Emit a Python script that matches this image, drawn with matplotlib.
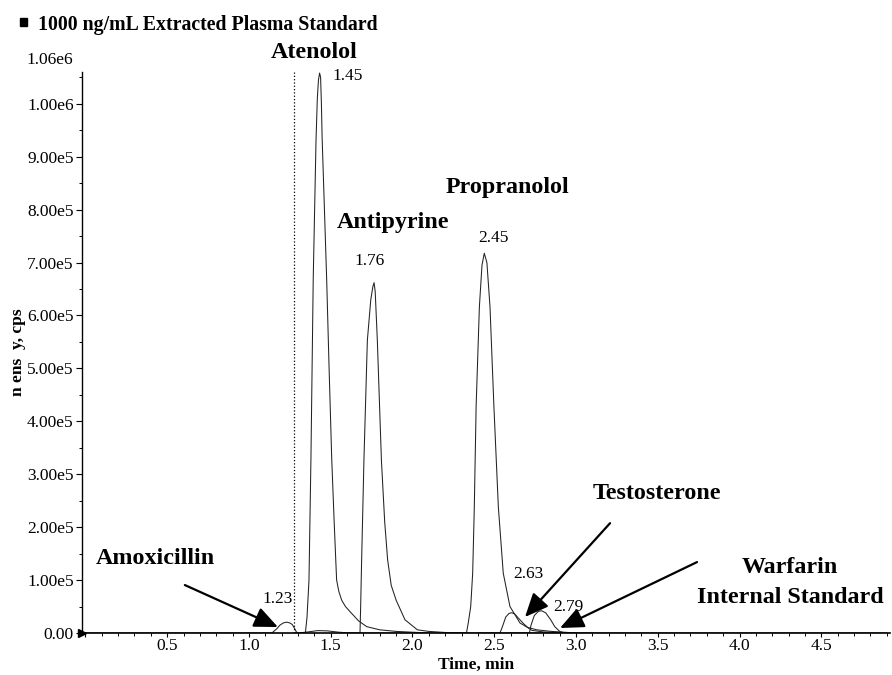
import matplotlib
matplotlib.use('Agg')
import matplotlib.pyplot as plt
from matplotlib.patches import Rectangle
from matplotlib.ticker import MultipleLocator, FuncFormatter

# chromatogram traces (time in min, intensity in cps)
amox_t = [0.0, 1.14, 1.17, 1.19, 1.21, 1.23, 1.25, 1.265, 1.28, 1.29, 1.30, 1.36, 1.42, 1.48, 1.55, 1.62, 4.9]
amox_y = [0, 0, 8e3, 15e3, 19e3, 20.5e3, 19e3, 16e3, 8e3, 2e3, 0, 2e3, 4.5e3, 4e3, 1.5e3, 0, 0]

aten_t = [1.28, 1.345, 1.355, 1.367, 1.379, 1.393, 1.41, 1.418, 1.425, 1.432, 1.438, 1.443, 1.447,
          1.475, 1.49, 1.506, 1.521, 1.536, 1.55, 1.567, 1.59, 1.628, 1.67, 1.72, 1.8, 1.9, 2.0, 2.1]
aten_y = [0, 0, 3e4, 1.0e5, 3.3e5, 6.7e5, 9.3e5, 1.01e6, 1.045e6, 1.058e6, 1.05e6, 1.0e6, 9.4e5,
          6.7e5, 5.0e5, 3.3e5, 2.1e5, 1.0e5, 7.8e4, 6.2e4, 5.0e4, 3.7e4, 2.3e4, 1.2e4, 6e3, 3e3, 1.5e3, 0]

anti_t = [1.60, 1.679, 1.683, 1.689, 1.703, 1.724, 1.745, 1.758, 1.765, 1.772, 1.785, 1.81, 1.83,
          1.848, 1.87, 1.90, 1.954, 2.03, 2.1, 2.2, 2.35]
anti_y = [0, 0, 5e4, 1.38e5, 3.26e5, 5.53e5, 6.3e5, 6.55e5, 6.62e5, 6.45e5, 5.53e5, 3.26e5, 2.1e5,
          1.38e5, 9e4, 6.2e4, 2.5e4, 6e3, 3e3, 1e3, 0]

prop_t = [2.2, 2.33, 2.341, 2.356, 2.368, 2.378, 2.389, 2.409, 2.425, 2.439, 2.455, 2.474, 2.498,
          2.525, 2.555, 2.596, 2.657, 2.70, 2.76, 2.85, 3.0]
prop_y = [0, 0, 1.9e4, 5.0e4, 1.13e5, 2.38e5, 4.27e5, 6.16e5, 6.95e5, 7.175e5, 7.0e5, 6.16e5, 4.27e5,
          2.38e5, 1.13e5, 5.0e4, 1.9e4, 1.1e4, 6e3, 3e3, 0]

test_t = [2.40, 2.535, 2.55, 2.57, 2.59, 2.607, 2.625, 2.645, 2.678, 2.71, 2.73, 2.80, 2.9, 3.0]
test_y = [0, 0, 1.2e4, 3.0e4, 3.7e4, 3.83e4, 3.6e4, 2.9e4, 1.8e4, 9e3, 5e3, 2e3, 1e3, 0]

warf_t = [2.6, 2.715, 2.725, 2.745, 2.77, 2.79, 2.815, 2.845, 2.87, 2.90, 2.93, 3.1]
warf_y = [0, 0, 1.5e4, 3.3e4, 4.1e4, 4.2e4, 3.8e4, 2.5e4, 1.2e4, 3e3, 0, 0]

traces = [(amox_t, amox_y), (aten_t, aten_y), (anti_t, anti_y),
          (prop_t, prop_y), (test_t, test_y), (warf_t, warf_y)]

# peak retention time labels: (text, t, y)
rt_labels = [('1.45', 1.606, 1.053e6), ('1.76', 1.74, 0.702e6), ('2.45', 2.498, 0.747e6),
             ('1.23', 1.177, 0.064e6), ('2.63', 2.706, 0.111e6), ('2.79', 2.951, 0.049e6)]

# compound names: (text, t, y)
names = [('Atenolol', 1.398, 1.096e6), ('Antipyrine', 1.881, 0.775e6), ('Propranolol', 2.578, 0.842e6),
         ('Amoxicillin', 0.425, 0.140e6), ('Testosterone', 3.495, 0.264e6),
         ('Warfarin', 4.309, 0.123e6), ('Internal Standard', 4.309, 0.068e6)]

# arrows: (tail, head)
arrows = [((0.608, 0.0906e6), (1.177, 0.0113e6)),
          ((3.208, 0.2075e6), (2.688, 0.0302e6)),
          ((3.740, 0.134e6), (2.902, 0.0094e6))]

cut_time = 1.275

plt.rcParams['font.family'] = ['Liberation Serif', 'DejaVu Serif']

W, H = 892, 675
fig = plt.figure(figsize=(W / 100, H / 100), dpi=100)
ax = fig.add_axes([82 / W, 1 - 633 / H, (890 - 82) / W, (633 - 72) / H])

for t, y in traces:
    ax.plot(t, y, color='#222222', lw=0.75)

ax.plot([cut_time, cut_time], [0, 1.06e6], color='black', ls=':', lw=0.9)

ax.set_xlim(-0.021, 4.92)
ax.set_ylim(0, 1.06e6)

for s in ['top', 'right']:
    ax.spines[s].set_visible(False)
ax.spines['left'].set_linewidth(1.0)
ax.spines['bottom'].set_linewidth(1.2)

ax.xaxis.set_major_locator(MultipleLocator(0.5))
ax.xaxis.set_minor_locator(MultipleLocator(0.1))
ax.yaxis.set_major_locator(MultipleLocator(1e5))
ax.yaxis.set_minor_locator(MultipleLocator(5e4))
ax.xaxis.set_major_formatter(FuncFormatter(lambda v, p: '' if v < 0.25 else '%.1f' % v))


def yfmt(v, p):
    if v == 0:
        return '0.00'
    if v >= 1e6 - 1:
        return '%.2fe6' % (v / 1e6)
    return '%.2fe5' % (v / 1e5)


ax.yaxis.set_major_formatter(FuncFormatter(yfmt))
ax.tick_params(axis='both', which='major', direction='out', length=4, width=0.8, labelsize=12.5, pad=2)
ax.tick_params(axis='both', which='minor', direction='out', length=2.5, width=0.7)
ax.tick_params(axis='x', which='major', length=3, pad=0.5)

# little triangle at the start of the baseline
ax.plot([-0.021], [0], marker='>', color='black', markersize=6, clip_on=False)

for txt, t, y in rt_labels:
    ax.text(t, y, txt, ha='center', va='center', fontsize=12.5)

for txt, t, y in names:
    ax.text(t, y, txt, ha='center', va='center', fontsize=17.3, fontweight='bold')

for tail, head in arrows:
    ax.annotate('', xy=head, xytext=tail,
                arrowprops=dict(arrowstyle='-|>,head_length=0.8,head_width=0.35',
                                mutation_scale=18, lw=1.6, color='black', shrinkA=0, shrinkB=0))

fig.text(73 / W, 1 - 60 / H, '1.06e6', ha='right', va='center', fontsize=12.5)
fig.add_artist(Rectangle((20 / W, 1 - 26 / H), 7 / W, 8 / H, transform=fig.transFigure,
                         color='black'))
fig.text(38 / W, 1 - 25 / H, '1000 ng/mL Extracted Plasma Standard', ha='left', va='center',
         fontsize=14.3, fontweight='bold')
fig.text(476 / W, 1 - 665 / H, 'Time, min', ha='center', va='center', fontsize=12.5, fontweight='bold')
fig.text(18 / W, 1 - 352 / H, 'n ens  y, cps', ha='center', va='center', rotation=90,
         fontsize=12.5, fontweight='bold')

fig.savefig('out.png', dpi=100)
